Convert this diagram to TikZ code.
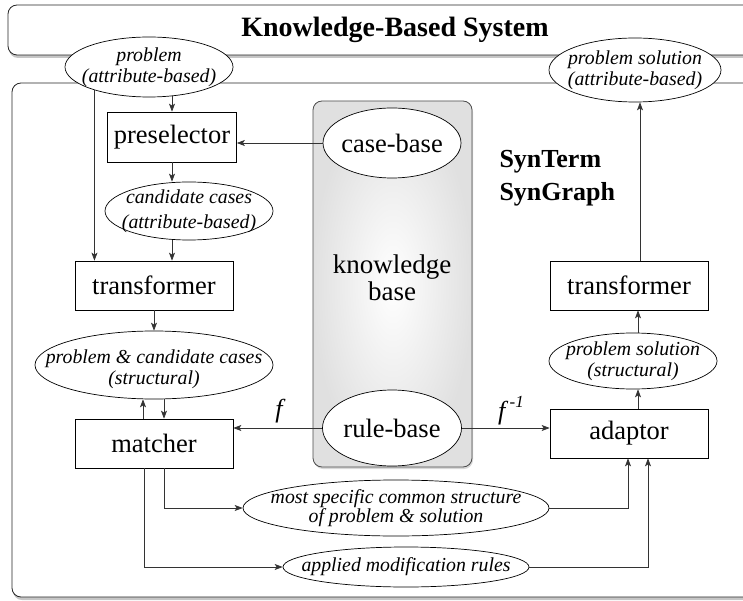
\documentclass[tikz,border=0pt]{standalone}
\usepackage{fontspec}
\setmainfont{Liberation Serif}
\usetikzlibrary{shapes.geometric,arrows.meta,shadows}

\tikzset{
  x=1pt, y=-1pt,
  reg/.style={font=\fontsize{26.5}{27}\selectfont},
  itl/.style={font=\fontsize{19.8}{21}\selectfont\itshape, align=center, inner sep=0pt},
  boxnode/.style={draw, line width=0.7pt, fill=white, reg, inner sep=0pt},
  ell/.style={draw, ellipse, line width=0.7pt, fill=white, inner sep=0pt},
  % ellipse of fixed size with its text laid on top
  tell/.style 2 args={ell, minimum width=#1, minimum height=#2},
  frame/.style={draw=black!85, line width=0.8pt, rounded corners=9pt, fill=white,
    drop shadow={opacity=0.45, shadow xshift=1pt, shadow yshift=-3pt}},
  conn/.style={draw=black!80, line width=0.7pt},
  arr/.style={conn, -{Stealth[length=8pt, width=6pt, inset=2pt]}},
}

\begin{document}
\begin{tikzpicture}
\useasboundingbox (0,0) rectangle (743,601);
\clip (0,0) rectangle (743,601);

% outer frames
\path[frame] (8,5) rectangle (780,55);
\node[font=\fontsize{28}{30}\selectfont\bfseries] (title) at (395,30) {Knowledge-Based System};
\path[frame] (12,83) rectangle (780,597);

% knowledge base column
\path[draw=black!70, line width=0.8pt, rounded corners=9pt, inner color=white, outer color=black!12,
  drop shadow={opacity=0.3, shadow xshift=1pt, shadow yshift=-2pt}]
  (313,101) rectangle (472,467);
\node[align=center, font=\fontsize{27}{27}\selectfont] (kbtext) at (392,278) {knowledge\\base};
\node[tell={138pt}{70pt}, label={[reg, inner sep=0pt]center:case-base}] (cb) at (392,143) {};
\node[tell={139pt}{76pt}, label={[reg, inner sep=0pt]center:rule-base}] (rb) at (392,428) {};

% input and output terms
\node[tell={168pt}{60pt}, label={[itl]center:{problem\\(attribute-based)}}] (prob) at (149,67) {};
\node[tell={172pt}{64pt}, label={[itl]center:{problem solution\\(attribute-based)}}] (psol) at (635,70) {};

% left processing chain
\node[boxnode, minimum width=129pt, minimum height=50pt] (pre) at (172,137) {preselector};
\node[tell={168pt}{58pt}, label={[itl, font=\fontsize{19.8}{25}\selectfont\itshape]center:{candidate cases\\(attribute-based)}}] (cand) at (189,211) {};
\node[boxnode, minimum width=158pt, minimum height=49pt] (tr1) at (154,285.5) {transformer};
\node[tell={238pt}{68pt}, label={[itl, yshift=-4pt]center:{problem \& candidate cases\\(structural)}}] (pcc) at (154,365) {};
\node[boxnode, minimum width=158pt, minimum height=49pt] (match) at (154,443.5) {matcher};

% right processing chain
\node[boxnode, minimum width=158pt, minimum height=49pt] (tr2) at (629,285.5) {transformer};
\node[tell={168pt}{56pt}, label={[itl]center:{problem solution\\(structural)}}] (pss) at (633,361) {};
\node[boxnode, minimum width=158pt, minimum height=49pt] (adapt) at (629,433.5) {adaptor};

% intermediate results
\node[tell={306pt}{56pt}, label={[itl, font=\fontsize{19.8}{19}\selectfont\itshape]center:{most specific common structure\\of problem \& solution}}] (msc) at (396,508) {};
\node[tell={246pt}{40pt}, label={[itl]center:{applied modification rules}}] (amr) at (406,567) {};

% system names
\node[font=\fontsize{26}{33}\selectfont\bfseries, align=left, anchor=west] (syn) at (496,178) {SynTerm\\SynGraph};

% helper coordinates
\coordinate (pL) at (prob.203);
\coordinate (pR) at (prob.-49);
\coordinate (mU) at ([xshift=-11pt]match.north);
\coordinate (mD) at ([xshift=10pt]match.north);
\coordinate (mA) at ([xshift=10pt]match.south);
\coordinate (mB) at ([xshift=-10pt]match.south);
\coordinate (aA) at ([xshift=-1pt]adapt.south);
\coordinate (aB) at ([xshift=19pt]adapt.south);
\coordinate (aN) at ([xshift=9pt]adapt.north);

% connectors
\draw[arr] (pR -| pre.north) -- (pre.north);
\draw[arr] (pL) -- (pL |- tr1.north);
\draw[arr] (cb.west) -- (cb.west -| pre.east);
\draw[arr] (pre.south) -- (pre.south |- cand.north);
\draw[arr] (pre.south |- cand.south) -- (pre.south |- tr1.north);
\draw[arr] (tr1.south) -- (pcc.north);
\draw[arr] (mU) -- (mU |- pcc.south);
\draw[arr] (mD |- pcc.south) -- (mD);
\draw[arr] (rb.west) -- (rb.west -| match.east);
\draw[arr] (rb.east) -- (rb.east -| adapt.west);
\draw[arr] (aN) -- (aN |- pss.south);
\draw[arr] (aN |- pss.north) -- (aN |- tr2.south);
\draw[arr] ([xshift=11pt]tr2.north) -- ([xshift=11pt]tr2.north |- psol.south);
\draw[arr] (mA) |- (msc.west);
\draw[arr] (mB) |- (amr.west);
\draw[arr] (msc.east) -| (aA);
\draw[arr] (amr.east) -| (aB);

% mapping labels
\node[font=\fontsize{26}{28}\selectfont\itshape] (f) at (279,411) {f};
\node[font=\fontsize{26}{28}\selectfont\itshape] (finv) at (511,411) {f\,\raisebox{0.45em}{\fontsize{17}{17}\selectfont -1}};
\end{tikzpicture}
\end{document}
